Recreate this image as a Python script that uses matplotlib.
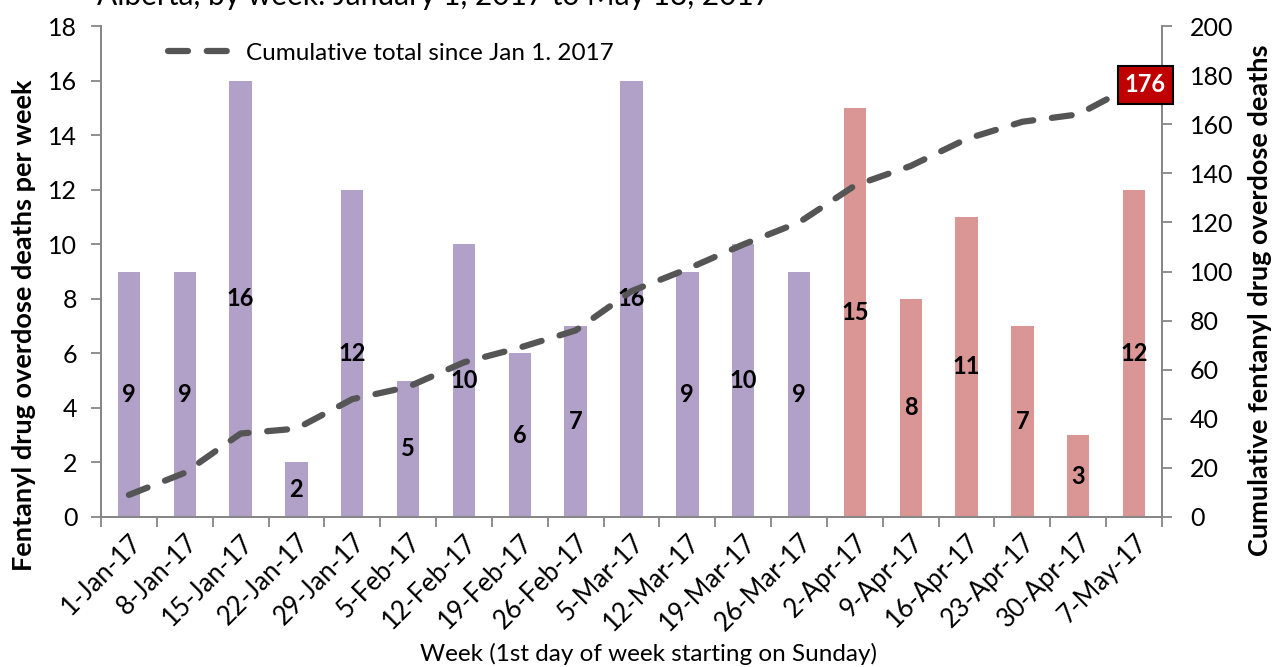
import matplotlib
matplotlib.use("Agg")
import matplotlib.pyplot as plt
import numpy as np

weeks = ["1-Jan-17", "8-Jan-17", "15-Jan-17", "22-Jan-17", "29-Jan-17", "5-Feb-17",
         "12-Feb-17", "19-Feb-17", "26-Feb-17", "5-Mar-17", "12-Mar-17", "19-Mar-17",
         "26-Mar-17", "2-Apr-17", "9-Apr-17", "16-Apr-17", "23-Apr-17", "30-Apr-17", "7-May-17"]
deaths = [9, 9, 16, 2, 12, 5, 10, 6, 7, 16, 9, 10, 9, 15, 8, 11, 7, 3, 12]
cumulative = [9, 18, 34, 36, 48, 53, 63, 69, 76, 92, 101, 111, 120, 135, 143, 154, 161, 164, 176]
quarter = ["Q1"] * 13 + ["Q2"] * 6

plt.rcParams['font.family'] = ['Lato', 'DejaVu Sans']
W, H = 1276, 667
fig = plt.figure(figsize=(W / 100, H / 100), dpi=100)
ax = fig.add_axes([101 / W, 1 - 517 / H, (1162 - 101) / W, (517 - 26) / H])
ax2 = ax.twinx()

x = np.arange(len(weeks))
colors = ['#B1A0C7' if q == "Q1" else '#DA9694' for q in quarter]
ax.bar(x, deaths, width=0.4, color=colors, zorder=2)
for xi, v in zip(x, deaths):
    ax.text(xi, v / 2, str(v), ha='center', va='center', fontsize=17, fontweight='bold', color='black', zorder=5)

ax.set_xlim(-0.5, len(weeks) - 0.5)
ax.set_ylim(0, 18)
ax.set_yticks(range(0, 19, 2))
ax.set_xticks(x)
ax.set_xticklabels(weeks, rotation=45, ha='right', rotation_mode='anchor', fontsize=18.5)
ax.set_xticks(np.arange(-0.5, len(weeks), 1), minor=True)
ax.tick_params(axis='x', which='major', length=0, pad=9)
ax.tick_params(axis='x', which='minor', length=7, width=1.3, color='#868686', direction='out')
ax.tick_params(axis='y', labelsize=18, length=7, width=1.3, color='#868686', pad=10)

ax2.plot(x, cumulative, color='#555555', linewidth=4.5, dashes=(3.2, 3.0), zorder=3,
         label='Cumulative total since Jan 1. 2017', dash_capstyle='round')
ax2.set_ylim(0, 200)
ax2.set_yticks(range(0, 201, 20))
ax2.tick_params(axis='y', labelsize=18, length=7, width=1.3, color='#868686', pad=13)

for a in (ax, ax2):
    a.spines['top'].set_visible(False)
    for s in ('left', 'right', 'bottom'):
        a.spines[s].set_color('#868686')
        a.spines[s].set_linewidth(1.3)

ax.set_ylabel('Fentanyl drug overdose deaths per week', fontsize=19.5, fontweight='bold')
ax.yaxis.set_label_coords((36 - 101) / 1061, (517 - 325) / 491)
ax2.set_ylabel('Cumulative fentanyl drug overdose deaths', fontsize=19.5, fontweight='bold')
ax2.yaxis.set_label_coords((1248 - 101) / 1061, (517 - 300) / 491)
ax.set_xlabel('Week (1st day of week starting on Sunday)', fontsize=17.5)
ax.xaxis.set_label_coords((649 - 101) / 1061, (517 - 643) / 491)

ax2.text(x[-1] + 0.2, cumulative[-1], str(cumulative[-1]), ha='center', va='center', fontsize=17,
         fontweight='bold', color='white', zorder=6,
         bbox=dict(boxstyle='square,pad=0.3', facecolor='#C00000', edgecolor='black', linewidth=1.5))

leg = ax2.legend(loc='upper left', bbox_to_anchor=(0.043, 1.01), frameon=False, fontsize=17.5,
                 handlelength=2.5, handletextpad=0.7)

fig.text(97 / W, 1 - 5 / H, 'Alberta, by week: January 1, 2017 to May 13, 2017', fontsize=21.5,
         va='baseline', ha='left')

fig.savefig('out.png', dpi=100)
